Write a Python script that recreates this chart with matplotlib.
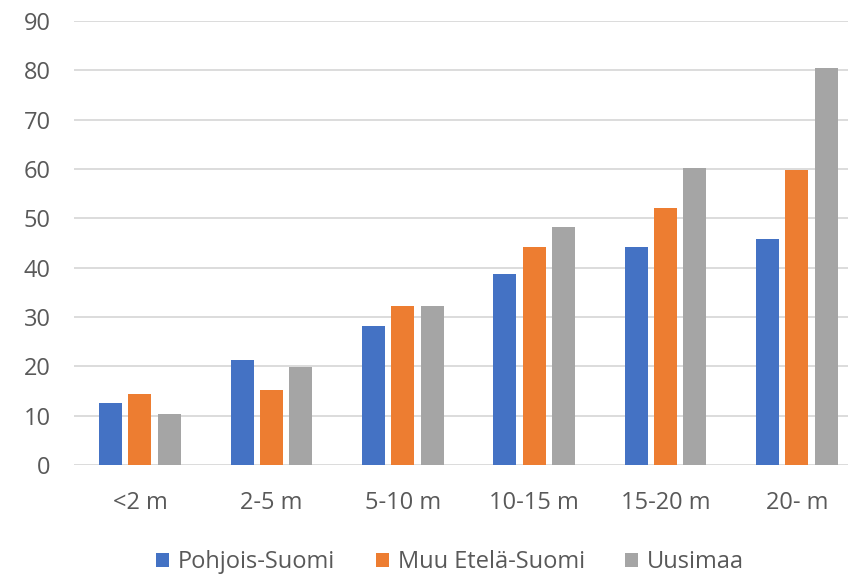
import matplotlib
matplotlib.use("Agg")
import matplotlib.pyplot as plt
import numpy as np

categories = ["<2 m", "2-5 m", "5-10 m", "10-15 m", "15-20 m", "20- m"]
series_names = ["Pohjois-Suomi", "Muu Etelä-Suomi", "Uusimaa"]
pohjois = [12.5, 21.3, 28.2, 38.7, 44.2, 45.8]
muu_etela = [14.3, 15.2, 32.3, 44.1, 52.1, 59.8]
uusimaa = [10.3, 19.9, 32.3, 48.3, 60.3, 80.5]
colors = ["#4472C4", "#ED7D31", "#A5A5A5"]

plt.rcParams['font.family'] = ['Open Sans', 'DejaVu Sans']

fig = plt.figure(figsize=(8.48, 5.76), dpi=100)
ax = fig.add_axes([0.0876, 0.1927, 0.9297, 0.7708])

x = np.arange(len(categories))
w = 0.175
step = 0.223
for i, (vals, name, c) in enumerate(zip([pohjois, muu_etela, uusimaa], series_names, colors)):
    ax.bar(x + (i - 1) * step, vals, width=w, color=c, label=name, zorder=3)

ax.set_xlim(-0.5, len(categories) - 0.5)
ax.set_ylim(0, 90)
ax.set_yticks(range(0, 91, 10))
ax.grid(axis='y', color='#D9D9D9', linewidth=1.3, zorder=0)
for s in ax.spines.values():
    s.set_visible(False)
ax.tick_params(axis='both', length=0, colors='#595959', labelsize=17)
ax.tick_params(axis='y', pad=17)
ax.tick_params(axis='x', pad=19)
ax.set_xticks(x)
ax.set_xticklabels(categories)

fig.legend(*ax.get_legend_handles_labels(), loc='center',
           bbox_to_anchor=(450 / 848, 1 - 562 / 576), ncol=3, frameon=False,
           fontsize=17, handlelength=0.55, handleheight=0.55, handletextpad=0.38,
           columnspacing=1.7, labelcolor='#595959')

fig.savefig("out.png", dpi=100)
